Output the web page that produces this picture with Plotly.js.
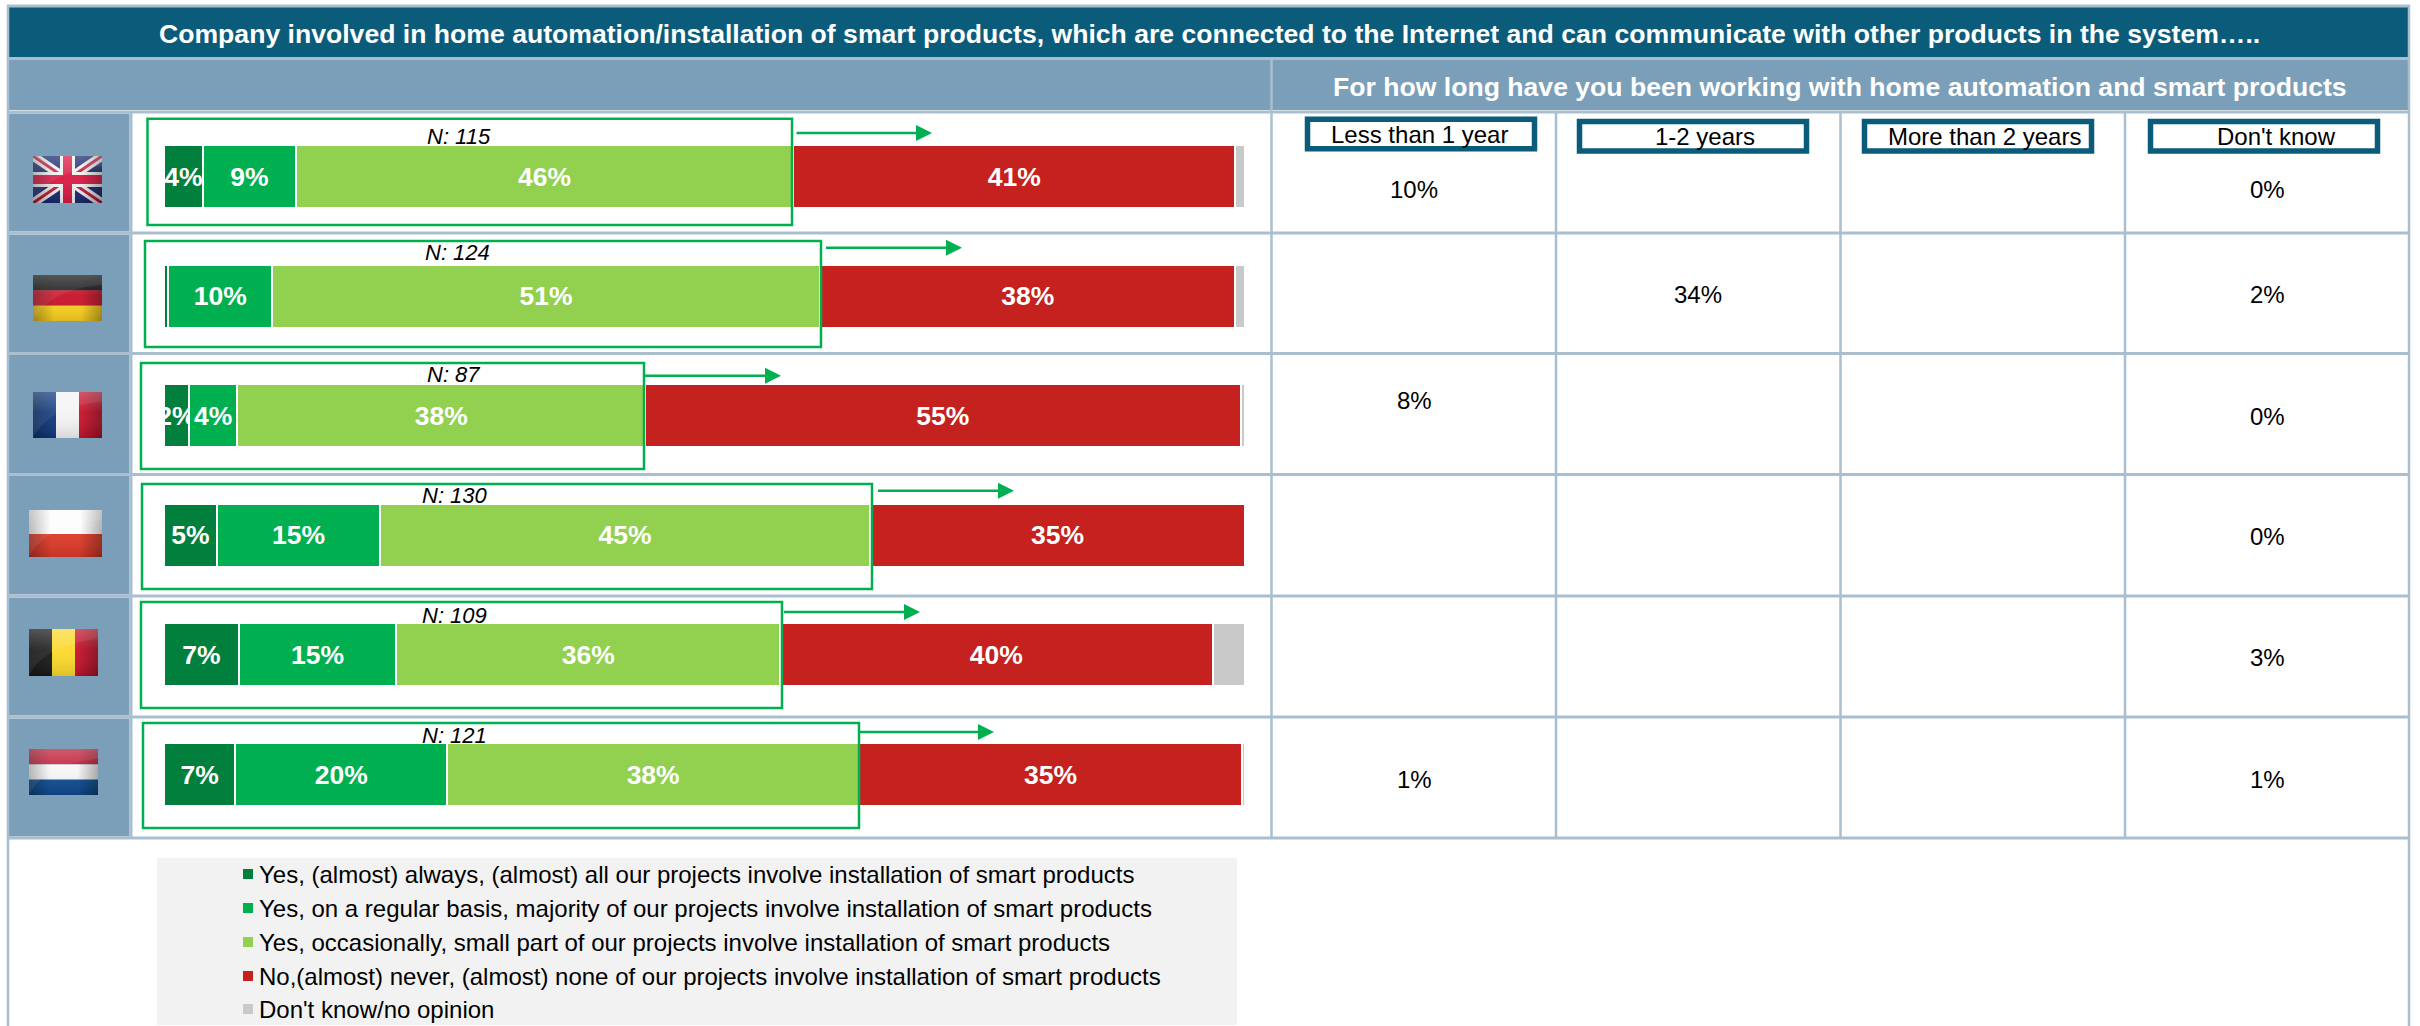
<!DOCTYPE html>
<html>
<head>
<meta charset="utf-8">
<title>Home automation involvement by country</title>
<script src="https://cdn.plot.ly/plotly-3.0.1.min.js"></script>
<style>html,body{margin:0;padding:0;background:#fff}#chart{width:2420px;height:1026px}</style>
</head>
<body>
<div id="chart"></div>
<script>
// Survey data, one entry per country, top row first
const countries = ['United Kingdom', 'Germany', 'France', 'Poland', 'Belgium', 'Netherlands'];
const sampleSizes = [115, 124, 87, 130, 109, 121];
const seriesNames = [
  'Yes, (almost) always, (almost) all our projects involve installation of smart products',
  'Yes, on a regular basis, majority of our projects involve installation of smart products',
  'Yes, occasionally, small part of our projects involve installation of smart products',
  'No,(almost) never, (almost) none of our projects involve installation of smart products',
  "Don't know/no opinion"
];
const almostAlways = [3.6, 0.4, 2.3, 4.9, 6.9, 6.6];
const regularBasis = [8.6, 9.6, 4.49, 15.1, 14.6, 19.6];
const occasionally = [46.0, 50.7, 37.7, 45.3, 35.5, 38.1];
const almostNever = [40.9, 38.4, 55.1, 34.7, 40.0, 35.4];
const dontKnow = [0.9, 0.9, 0.41, 0.0, 3.0, 0.3];

const durationHeads = ['Less than 1 year', '1-2 years', 'More than 2 years', "Don't know"];
const lessThanOneYear = [10, null, 8, null, null, 1];
const oneToTwoYears = [null, 34, null, null, null, null];
const moreThanTwoYears = [null, null, null, null, null, null];
const durationUnknown = [0, 2, 0, 0, 3, 1];

// Palette
const seriesColors = ['#00803c', '#00b050', '#92d050', '#c4211f', '#c9c9c9'];
const NAVY = '#0b5c7a', STEEL = '#7b9fb8', RULE = '#a9bfd0', CALLOUT = '#00b050';
const FONT = '"Liberation Sans", Arial, sans-serif';

// Page geometry in pixels
const W = 2420, H = 1026;
const px = v => v / W;
const py = v => 1 - v / H;
const BAR_LEFT = 164, BAR_RIGHT = 1245, PLOT_TOP = 116.7, PLOT_BOTTOM = 834.3;
const rowEdges = [112, 233, 353.5, 474.5, 596, 717, 838];
const colEdges = [1271.5, 1556, 1840.5, 2125, 2409];
const durationCenters = [1414, 1698, 1982, 2267];
const cellCenterY = [189, 295, 400, 536, 657, 779];
const unknownCenterY = [189, 295, 416, 536, 657, 779];

// Green callout boxes and arrows around the "yes" share of each row
const calloutLeft = [147.5, 145, 141, 142, 141, 143];
const calloutRight = [792, 821, 644, 872, 782, 859];
const calloutTop = [118.7, 241, 363, 484, 602, 723];
const calloutBottom = [225, 347, 469, 589, 708, 828];
const arrowStart = [796.5, 826, 645, 878, 784, 860];
const arrowEnd = [932, 962, 781, 1014, 920, 994];
const arrowY = [133, 247.7, 375.7, 490.7, 612, 732];
const sampleX = [459, 457.6, 453.6, 455, 454, 454.6];
const sampleY = [136.7, 252, 375, 495.7, 615, 735];

// Duration head boxes
const headLeft = [1305, 1577, 1862, 2148];
const headRight = [1537, 1809, 2094, 2380];
const headTop = [116.7, 119, 119, 119];
const headTextX = [1419.5, 1705, 1984, 2276];

// Key below the bars
const keyRowY = [874, 908, 942, 976, 1009];

const rect = (x0, y0, x1, y1, fill, extra) => Object.assign({
  type: 'rect', xref: 'paper', yref: 'paper', layer: 'below',
  x0: px(x0), x1: px(x1), y0: py(y0), y1: py(y1),
  fillcolor: fill, line: {width: 0}
}, extra || {});

const hline = (x0, x1, y, width) => ({
  type: 'line', xref: 'paper', yref: 'paper', layer: 'below',
  x0: px(x0), x1: px(x1), y0: py(y), y1: py(y), line: {color: RULE, width: width}
});
const vline = (x, y0, y1, width) => ({
  type: 'line', xref: 'paper', yref: 'paper', layer: 'below',
  x0: px(x), x1: px(x), y0: py(y0), y1: py(y1), line: {color: RULE, width: width}
});

const shapes = [];
// Header bands and the flag column
shapes.push(rect(9, 7, 2408, 57.5, NAVY));
shapes.push(rect(9, 60, 2408, 110, STEEL));
for (let i = 0; i < countries.length; i++) {
  shapes.push(rect(9, rowEdges[i] + 1.5, 129.5, rowEdges[i + 1] - 1.5, STEEL));
}
// Table rules
shapes.push(hline(7, 2410, 6, 3));
shapes.push(hline(7, 2410, 58.5, 3));
rowEdges.forEach(y => shapes.push(hline(7, 2410, y, 3)));
shapes.push(vline(8, 5, 1026, 2.5));
shapes.push(vline(2409, 5, 1026, 2.5));
shapes.push(vline(131, 112, 838, 3));
shapes.push(vline(colEdges[0], 58, 838, 2.5));
colEdges.slice(1, 4).forEach(x => shapes.push(vline(x, 112, 838, 2.5)));

// Key panel and swatches
shapes.push(rect(157, 857.7, 1237, 1025, '#f2f2f2'));
seriesNames.forEach((n, i) => {
  shapes.push(rect(243, keyRowY[i] - 5, 253, keyRowY[i] + 5, seriesColors[i]));
});

// Callouts
countries.forEach((c, i) => {
  shapes.push({
    type: 'rect', xref: 'paper', yref: 'paper', layer: 'above',
    x0: px(calloutLeft[i]), x1: px(calloutRight[i]),
    y0: py(calloutBottom[i]), y1: py(calloutTop[i]),
    fillcolor: 'rgba(0,0,0,0)', line: {color: CALLOUT, width: 2.5}
  });
  shapes.push({
    type: 'line', xref: 'paper', yref: 'paper', layer: 'above',
    x0: px(arrowStart[i]), x1: px(arrowEnd[i] - 15),
    y0: py(arrowY[i]), y1: py(arrowY[i]), line: {color: CALLOUT, width: 2.5}
  });
  const tx = arrowEnd[i], ty = arrowY[i];
  shapes.push({
    type: 'path', xref: 'paper', yref: 'paper', layer: 'above',
    path: `M${px(tx - 16)},${py(ty - 8)}L${px(tx)},${py(ty)}L${px(tx - 16)},${py(ty + 8)}Z`,
    fillcolor: CALLOUT, line: {width: 0}
  });
});

// Duration head boxes
durationHeads.forEach((h, i) => {
  shapes.push(rect(headLeft[i] + 2.5, headTop[i] + 2.5, headRight[i] - 2.5, headTop[i] + 32, '#ffffff', {
    layer: 'above', line: {color: NAVY, width: 5.5}
  }));
});

const annotations = [];
const addText = (x, y, text, size, color, extra) => annotations.push(Object.assign({
  xref: 'paper', yref: 'paper', x: px(x), y: py(y), text: text, showarrow: false,
  xanchor: 'center', yanchor: 'middle',
  font: {family: FONT, size: size, color: color}
}, extra || {}));

const boldWhite = {family: FONT, size: 26.6, color: '#ffffff', weight: 700};
addText(1209, 34, 'Company involved in home automation/installation of smart products, which are connected to the Internet and can communicate with other products in the system…..', 26.6, '#ffffff', {font: boldWhite});
addText(1840, 87, 'For how long have you been working with home automation and smart products', 26.6, '#ffffff', {font: boldWhite});
durationHeads.forEach((h, i) => addText(headTextX[i], headTop[i] + 17.5, h, 24, '#000000'));
countries.forEach((c, i) => addText(sampleX[i], sampleY[i], `<i>N: ${sampleSizes[i]}</i>`, 22, '#000000'));
[lessThanOneYear, oneToTwoYears, moreThanTwoYears].forEach((col, c) => {
  col.forEach((v, r) => {
    if (v !== null) addText(durationCenters[c], cellCenterY[r], v + '%', 24, '#000000');
  });
});
durationUnknown.forEach((v, r) => addText(durationCenters[3], unknownCenterY[r], v + '%', 24, '#000000'));
seriesNames.forEach((n, i) => addText(257, keyRowY[i], n, 24, '#000000', {xanchor: 'left'}));

// Country flags, each a small vector with a glossy sheen
const sheen = `<defs>
<linearGradient id="s" x1="0" y1="0" x2="0" y2="1"><stop offset="0" stop-color="#fff" stop-opacity=".22"/><stop offset=".45" stop-color="#fff" stop-opacity=".04"/><stop offset="1" stop-color="#000" stop-opacity=".12"/></linearGradient>
<linearGradient id="e" x1="0" y1="0" x2="1" y2="0"><stop offset="0" stop-color="#000" stop-opacity=".3"/><stop offset=".3" stop-color="#000" stop-opacity="0"/><stop offset=".7" stop-color="#000" stop-opacity="0"/><stop offset="1" stop-color="#000" stop-opacity=".32"/></linearGradient>
</defs>`;
const gloss = `<rect width="69" height="47" fill="url(#e)"/><rect width="69" height="47" fill="url(#s)"/><path d="M0,47C8,30 28,14 69,10V0H0Z" fill="#fff" opacity=".07"/>`;
const flagBodies = [
  `<rect width="69" height="47" fill="#1a2a70"/><path d="M0,0L69,47M69,0L0,47" stroke="#f0f0f0" stroke-width="9"/><path d="M0,0L69,47M69,0L0,47" stroke="#c8173a" stroke-width="3"/><path d="M34.5,0V47M0,23.5H69" stroke="#f0f0f0" stroke-width="15"/><path d="M34.5,0V47M0,23.5H69" stroke="#d81b45" stroke-width="9"/>`,
  `<rect width="69" height="16" fill="#151515"/><rect y="15.6" width="69" height="15.8" fill="#c8152c"/><rect y="31.3" width="69" height="15.7" fill="#fcd21e"/>`,
  `<rect width="23" height="47" fill="#103a80"/><rect x="23" width="23" height="47" fill="#f4f4f4"/><rect x="46" width="23" height="47" fill="#c8142c"/>`,
  `<rect width="69" height="24" fill="#fdfdfd"/><rect y="24" width="69" height="23" fill="#de3a28"/>`,
  `<rect width="23" height="47" fill="#1a1a1a"/><rect x="23" width="23" height="47" fill="#fbd92d"/><rect x="46" width="23" height="47" fill="#c8142c"/>`,
  `<rect width="69" height="15.7" fill="#c01a34"/><rect y="15.7" width="69" height="15.6" fill="#f6f6f6"/><rect y="31.3" width="69" height="15.7" fill="#0e4c90"/>`
];
const flagLeft = [33, 33, 33, 29, 29, 29];
const flagRight = [102, 102, 102, 102, 98, 98];
const flagTop = [156, 275, 392, 510, 629, 749];
const flagBottom = [203, 321, 438, 557, 676, 795];
const images = flagBodies.map((body, i) => ({
  source: 'data:image/svg+xml;utf8,' + encodeURIComponent(
    `<svg xmlns="http://www.w3.org/2000/svg" viewBox="0 0 69 47" width="138" height="94" preserveAspectRatio="none">${sheen}${body}${gloss}</svg>`),
  xref: 'paper', yref: 'paper', x: px(flagLeft[i]), y: py(flagTop[i]),
  sizex: px(flagRight[i] - flagLeft[i]), sizey: (flagBottom[i] - flagTop[i]) / H,
  xanchor: 'left', yanchor: 'top', sizing: 'stretch', layer: 'above'
}));

// Stacked bars; the smallest slivers and the no-opinion share carry no label
const percentLabels = (values, labelled) => values.map(v => labelled && v >= 1 ? Math.round(v) + '%' : '');
const seriesValues = [almostAlways, regularBasis, occasionally, almostNever, dontKnow];
const traces = seriesValues.map((values, i) => ({
  type: 'bar', orientation: 'h', name: seriesNames[i],
  y: countries, x: values,
  text: percentLabels(values, i < 4),
  textposition: 'inside', insidetextanchor: 'middle', constraintext: 'none', textangle: 0,
  cliponaxis: false,
  textfont: {family: FONT, size: 26.5, color: '#ffffff', weight: 700},
  marker: {color: seriesColors[i], line: {color: '#ffffff', width: 2}},
  hoverinfo: 'skip'
}));

const layout = {
  width: W, height: H, autosize: false,
  margin: {l: 0, r: 0, t: 0, b: 0, pad: 0},
  paper_bgcolor: '#ffffff', plot_bgcolor: 'rgba(0,0,0,0)',
  barmode: 'stack', bargap: 0.473,
  showlegend: false,
  xaxis: {domain: [px(BAR_LEFT), px(BAR_RIGHT)], range: [0, 100], visible: false, fixedrange: true},
  yaxis: {
    domain: [py(PLOT_BOTTOM), py(PLOT_TOP)], type: 'category', categoryorder: 'array',
    categoryarray: countries, autorange: 'reversed', visible: false, fixedrange: true
  },
  shapes: shapes, annotations: annotations, images: images
};

Plotly.newPlot('chart', traces, layout, {displayModeBar: false, responsive: false});
</script>
</body>
</html>
